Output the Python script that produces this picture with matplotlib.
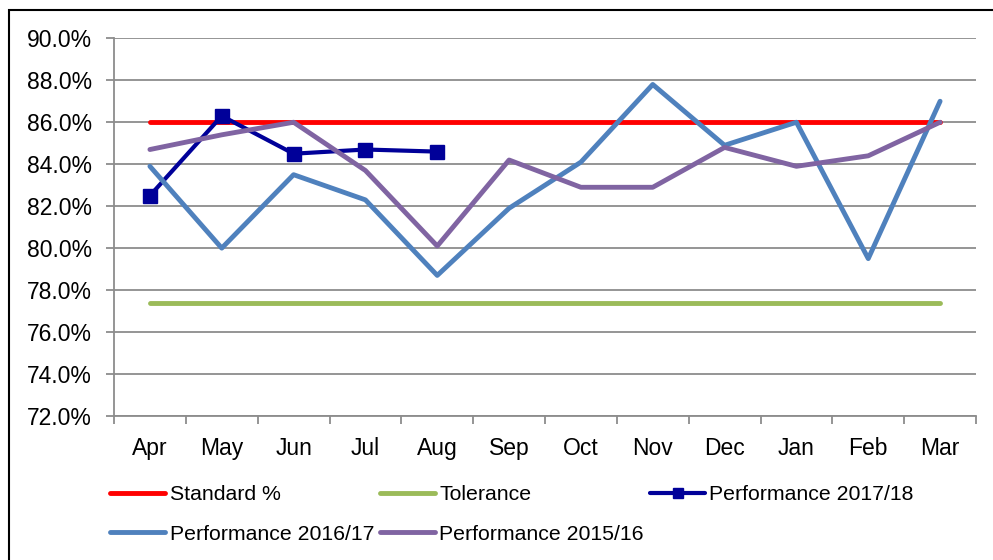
import matplotlib
matplotlib.use("Agg")
import matplotlib.pyplot as plt
import numpy as np
from matplotlib.patches import Rectangle
from matplotlib.ticker import FuncFormatter

plt.rcParams['font.family'] = ['Liberation Sans', 'DejaVu Sans']

months = ['Apr', 'May', 'Jun', 'Jul', 'Aug', 'Sep', 'Oct', 'Nov', 'Dec', 'Jan', 'Feb', 'Mar']
standard = [86.0] * 12
tolerance = [77.4] * 12
perf_1718 = [82.5, 86.3, 84.5, 84.7, 84.6]
perf_1617 = [83.9, 80.0, 83.5, 82.3, 78.7, 81.9, 84.1, 87.8, 84.9, 86.0, 79.5, 87.0]
perf_1516 = [84.7, 85.4, 86.0, 83.7, 80.1, 84.2, 82.9, 82.9, 84.8, 83.9, 84.4, 86.0]

W, H = 993, 560
fig = plt.figure(figsize=(W / 100, H / 100), dpi=100)
ax = fig.add_axes([114 / W, 1 - 416 / H, (976 - 114) / W, (416 - 38.3) / H])

x = np.arange(len(months))
lw = 3.5
kw = dict(solid_capstyle='round', solid_joinstyle='round')
l_std, = ax.plot(x, standard, color='#FF0000', lw=lw, label='Standard %', **kw)
l_tol, = ax.plot(x, tolerance, color='#9BBB59', lw=lw, label='Tolerance', **kw)
l_17, = ax.plot(x[:len(perf_1718)], perf_1718, color='#000099', lw=3, marker='s',
                markersize=9.5, label='Performance 2017/18', **kw)
l_16, = ax.plot(x, perf_1617, color='#4F81BD', lw=lw, label='Performance 2016/17', **kw)
l_15, = ax.plot(x, perf_1516, color='#8064A2', lw=lw, label='Performance 2015/16', **kw)

ax.set_xlim(-0.5, 11.5)
ax.set_ylim(72, 90)
ax.set_yticks(np.arange(72, 90.1, 2))
ax.yaxis.set_major_formatter(FuncFormatter(lambda v, p: f'{v:.1f}%'))
ax.grid(axis='y', color='#8C8C8C', lw=1.3)
ax.set_axisbelow(True)

# category boundaries get the tick marks, labels sit in the middle
ax.set_xticks(np.arange(-0.5, 12, 1))
ax.set_xticklabels([])
ax.set_xticks(x, minor=True)
ax.set_xticklabels(months, minor=True)
ax.tick_params(axis='x', which='major', length=6, width=1.3, color='#8C8C8C')
ax.tick_params(axis='x', which='minor', length=0, pad=15, labelsize=16.5)
ax.tick_params(axis='y', length=6, width=1.3, color='#8C8C8C', pad=10, labelsize=16.5)

for s in ['top', 'right']:
    ax.spines[s].set_visible(False)
for s in ['left', 'bottom']:
    ax.spines[s].set_color('#8C8C8C')
    ax.spines[s].set_linewidth(1.3)

fig.legend([l_std, l_16, l_tol, l_15, l_17],
           ['Standard %', 'Performance 2016/17', 'Tolerance', 'Performance 2015/16', 'Performance 2017/18'],
           ncol=3, loc='upper left', bbox_to_anchor=(110 / W, 1 - 485 / H),
           frameon=False, fontsize=15.3, handlelength=2.6, handletextpad=0.2,
           columnspacing=0.28, labelspacing=0.98, borderpad=0, borderaxespad=0,
           markerscale=0.75)

fig.patches.append(Rectangle((8.5 / W, -0.1), 1.2, 1.1 - 9.5 / H,
                             transform=fig.transFigure, fill=False,
                             edgecolor='black', lw=1.5, figure=fig))

fig.savefig('out.png', dpi=100)
